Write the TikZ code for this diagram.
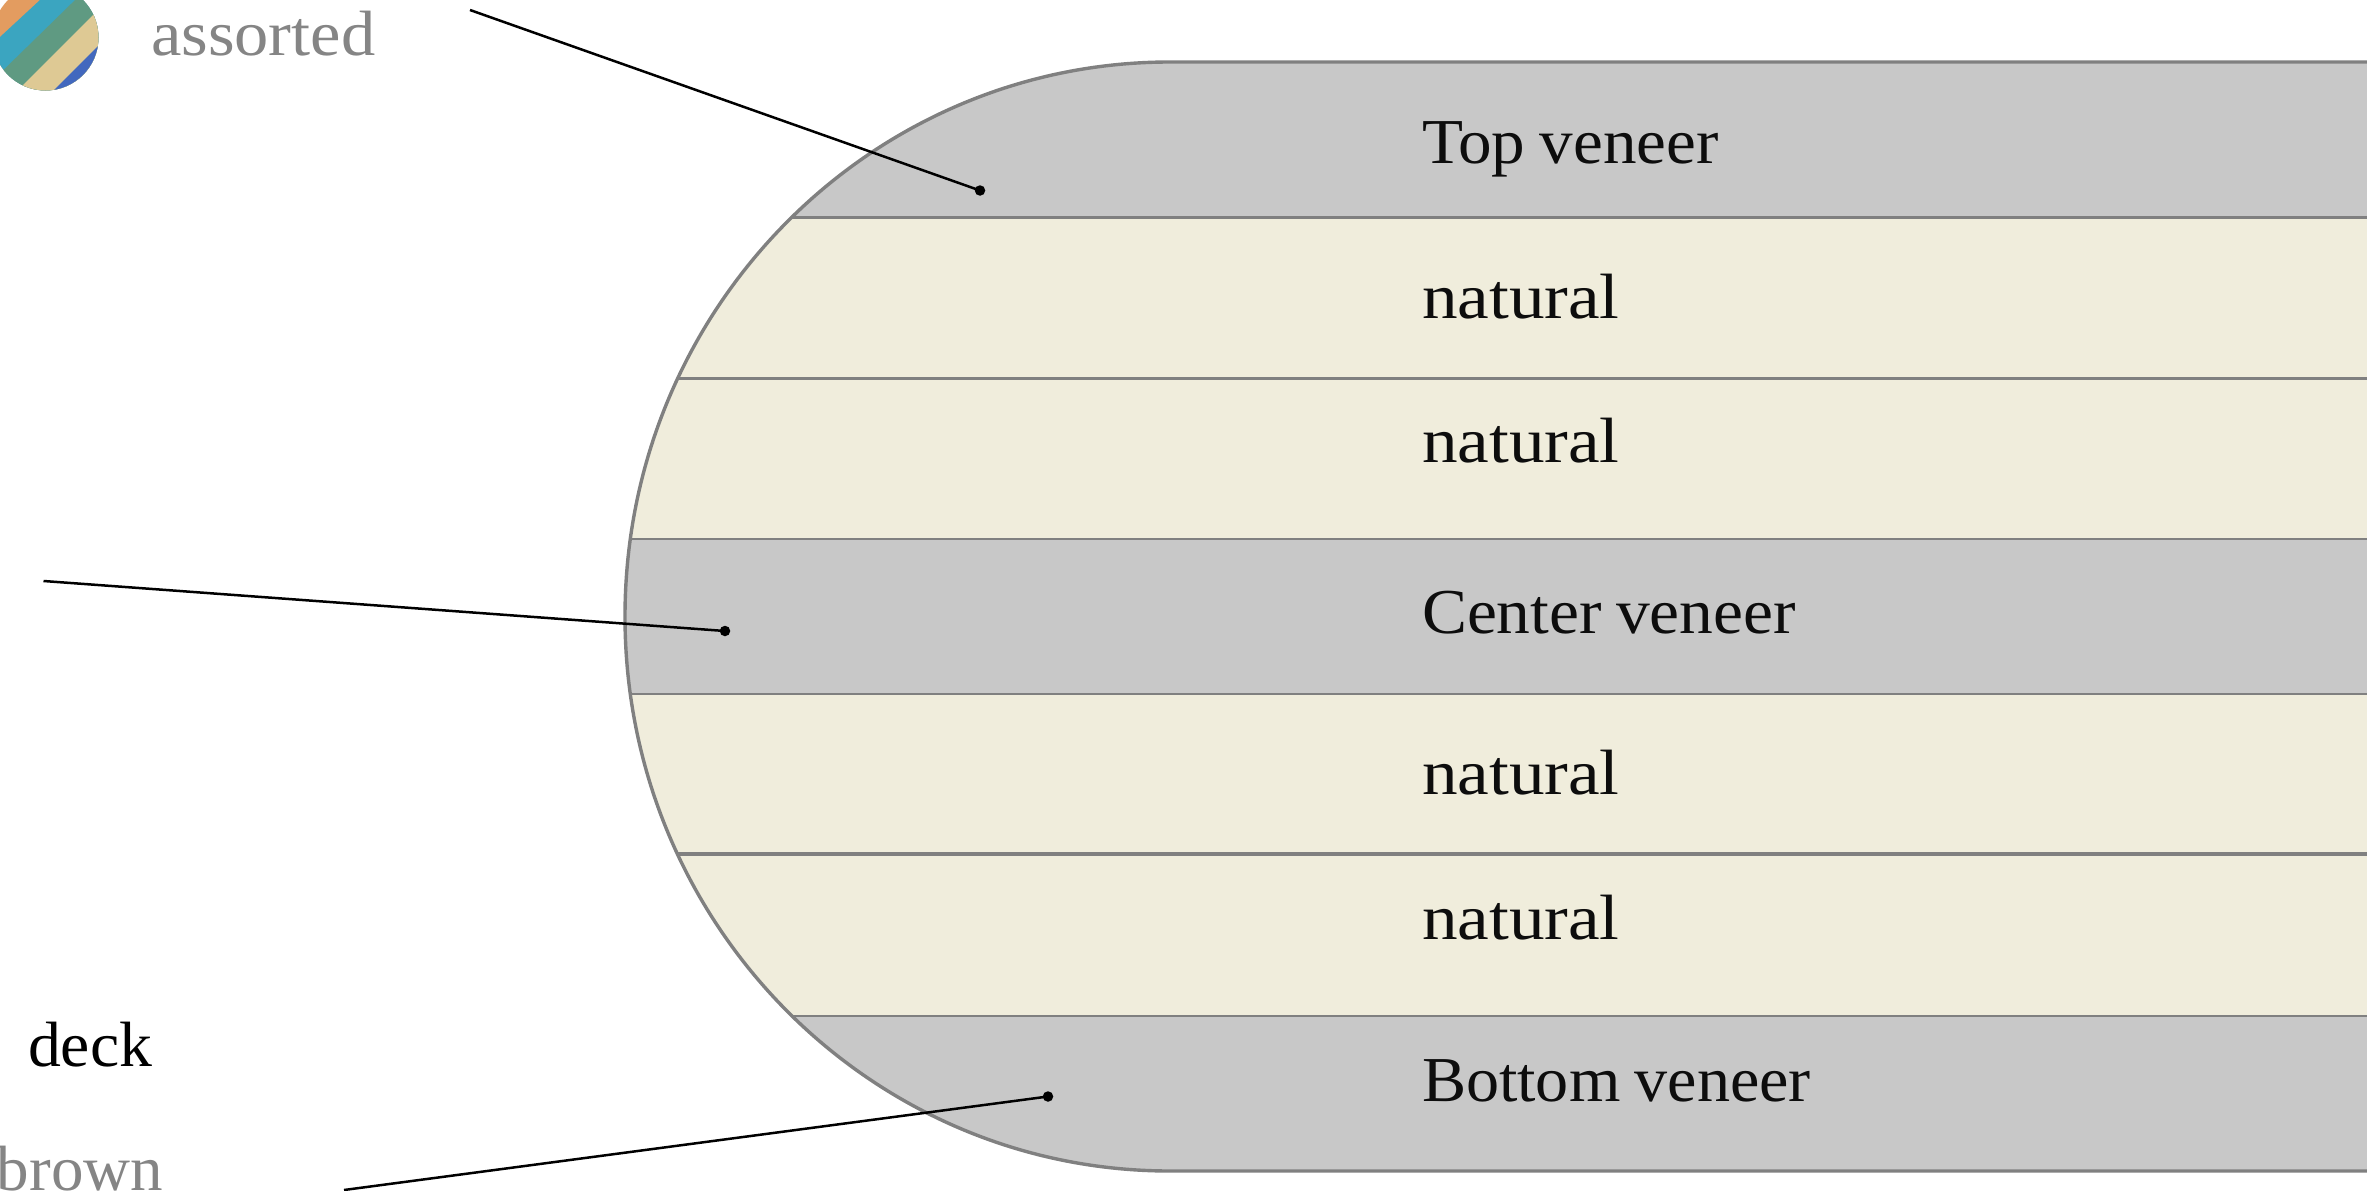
\documentclass[tikz,border=0pt]{standalone}
\usepackage{fontspec}
\setmainfont[FakeStretch=1.07,WordSpace=0.85]{Liberation Serif}
\definecolor{veneergray}{HTML}{C8C8C8}
\definecolor{plycream}{HTML}{F0EDDC}
\definecolor{edgegray}{HTML}{808080}
\definecolor{labelgray}{HTML}{858585}
\definecolor{swOrange}{HTML}{E39C60}
\definecolor{swTeal}{HTML}{3BA5C0}
\definecolor{swGreen}{HTML}{5F9A82}
\definecolor{swTan}{HTML}{DEC994}
\definecolor{swBlue}{HTML}{4268BE}
\tikzset{
  x=1pt,y=-1pt,
  plylabel/.style={anchor=base west,inner sep=0pt,outer sep=0pt,text=black!95,font=\fontsize{64}{70}\selectfont},
  sidelabel/.style={plylabel,text=black},
  graylabel/.style={plylabel,text=labelgray},
  leader/.style={draw=black,line width=2.5pt},
  enddot/.style={circle,fill=black,inner sep=0pt,minimum size=10.5pt},
  sep/.style={draw=edgegray,line width=2.6pt},
}
\newcommand{\natword}{\scalebox{1.04}[1]{natural}}
\begin{document}
\begin{tikzpicture}
\useasboundingbox (0,0) rectangle (2367,1191);
\clip (0,0) rectangle (2367,1191);
\begin{scope}
  \clip (2380,62) -- (1170,62) arc[start angle=270,end angle=90,x radius=545,y radius=554.5] -- (2380,1171) -- cycle;
  \fill[veneergray] (600,50) rectangle (2380,217.5);
  \fill[plycream] (600,217.5) rectangle (2380,539);
  \fill[veneergray] (600,539) rectangle (2380,694);
  \fill[plycream] (600,694) rectangle (2380,1016);
  \fill[veneergray] (600,1016) rectangle (2380,1180);
  \draw[sep] (600,217.5) -- (2380,217.5);
  \draw[sep,line width=3.4pt] (600,378.5) -- (2380,378.5);
  \draw[sep] (600,539) -- (2380,539);
  \draw[sep] (600,694) -- (2380,694);
  \draw[sep,line width=3.4pt] (600,854) -- (2380,854);
  \draw[sep] (600,1016) -- (2380,1016);
\end{scope}
\draw[edgegray,line width=3.4pt] (2380,62) -- (1170,62) arc[start angle=270,end angle=90,x radius=545,y radius=554.5] -- (2380,1171);
% layer labels
\node[plylabel] (top) at (1422,163) {\scalebox{.98}[1]{Top veneer}};
\node[plylabel] (n1) at (1422,318) {\natword};
\node[plylabel] (n2) at (1422,462) {\natword};
\node[plylabel] (center) at (1422,633) {\scalebox{.985}[1]{Center veneer}};
\node[plylabel] (n3) at (1422,794) {\natword};
\node[plylabel] (n4) at (1422,939) {\natword};
\node[plylabel] (bottom) at (1422,1101) {\scalebox{.966}[1]{Bottom veneer}};
% swatch
\begin{scope}
  \clip (45.5,37.5) circle[radius=53];
  \fill[swOrange] (-20,-20) rectangle (110,100);
  \fill[swTeal] (80,-37) -- (-40,74) -- (200,200) -- cycle;
  \fill[swGreen] (115,-39) -- (-35,107.6) -- (200,200) -- cycle;
  \fill[swTan] (133,-25) -- (-17,125) -- (200,200) -- cycle;
  \fill[swBlue] (150,-6) -- (0,144) -- (200,200) -- cycle;
\end{scope}
\node[graylabel] (assorted) at (151,55) {assorted};
\node[sidelabel] (deck) at (28,1066) {\scalebox{.96}[1]{deck}};
\node[graylabel] (brown) at (-3,1190) {\scalebox{.95}[1]{brown}};
% leaders
\node[enddot] (d1) at (980,190.5) {};
\node[enddot] (d2) at (725,631) {};
\node[enddot] (d3) at (1048,1096.5) {};
\coordinate (s1) at (470,10);
\coordinate (s2) at (43.5,581);
\coordinate (s3) at (344,1190);
\draw[leader] (s1) -- (d1.center);
\draw[leader] (s2) -- (d2.center);
\draw[leader] (s3) -- (d3.center);
\end{tikzpicture}
\end{document}
